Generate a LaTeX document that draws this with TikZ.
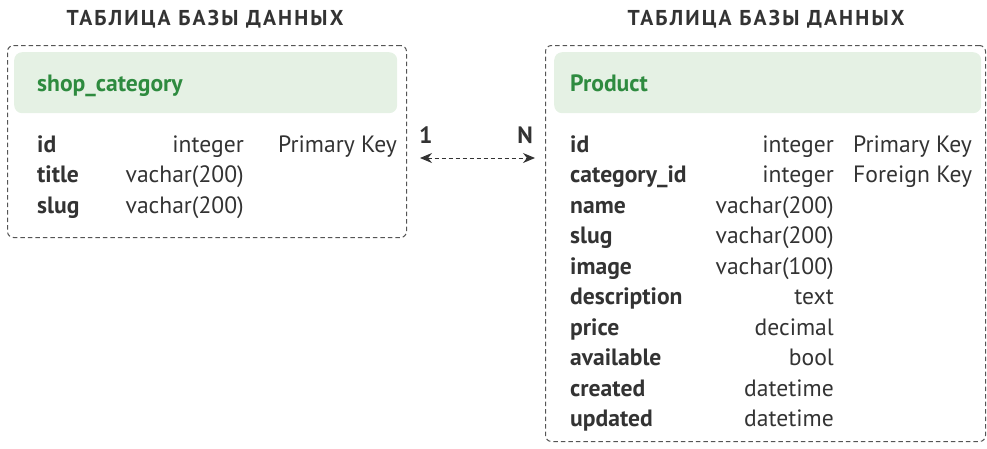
\documentclass[tikz,border=0pt]{standalone}
\usepackage{fontspec}
\setmainfont{PT Sans}
\usepackage{tikz}
\usetikzlibrary{arrows.meta,positioning}

\definecolor{inkgray}{HTML}{333333}
\definecolor{boxgray}{HTML}{555555}
\definecolor{headgreen}{HTML}{E5F1E4}
\definecolor{titlegreen}{HTML}{2E8B3F}

\begin{document}
\begin{tikzpicture}[
  x=1pt, y=-1pt,
  every node/.style={font=\fontsize{23.6}{28}\selectfont, text=inkgray, inner sep=0pt},
  caption/.style={anchor=base, font=\fontsize{21.5}{26}\selectfont\bfseries\addfontfeature{LetterSpace=10}},
  tablebox/.style={draw=boxgray, dash pattern=on 4.5pt off 3pt, line width=1pt, rounded corners=6pt, anchor=north west},
  header/.style={fill=headgreen, rounded corners=8pt, anchor=north west},
  tname/.style={anchor=base west, font=\fontsize{23.6}{28}\selectfont\bfseries, text=titlegreen},
  field/.style={anchor=base west, font=\fontsize{23.6}{28}\selectfont\bfseries},
  ftype/.style={anchor=base east},
  fkey/.style={anchor=base west},
  rel/.style={draw=inkgray, line width=1pt, dash pattern=on 4pt off 3pt, {Stealth[length=12pt,width=10pt]}-{Stealth[length=12pt,width=10pt]}}
]
\useasboundingbox (0,0) rectangle (987,448);

% captions
\node[caption] (capleft) at (205,25) {ТАБЛИЦА БАЗЫ ДАННЫХ};
\node[caption] (capright) at (766,25) {ТАБЛИЦА БАЗЫ ДАННЫХ};

% shop_category table
\node[tablebox, minimum width=399, minimum height=192] (catbox) at (7,45) {};
\node[header, minimum width=383, minimum height=61] (cathead) at (14,52) {};
\node[tname] (catname) at (37,91) {shop\_category};
\node[field] (cat-id) at (37,152) {id};
\node[ftype] (cat-id-t) at (244,152) {integer};
\node[fkey] (cat-id-k) at (278,152) {Primary Key};
\node[field] (cat-title) at (37,182.5) {title};
\node[ftype] (cat-title-t) at (244,182.5) {vachar(200)};
\node[field] (cat-slug) at (37,213) {slug};
\node[ftype] (cat-slug-t) at (244,213) {vachar(200)};

% Product table
\node[tablebox, minimum width=440, minimum height=396] (prodbox) at (545,45) {};
\node[header, minimum width=427, minimum height=61] (prodhead) at (554,52) {};
\node[tname] (prodname) at (570,91) {Product};
\foreach \i/\f/\t in {0/id/integer, 1/category\_id/integer, 2/name/vachar(200),
  3/slug/vachar(200), 4/image/vachar(100), 5/description/text, 6/price/decimal,
  7/available/bool, 8/created/datetime, 9/updated/datetime} {
  \node[field] (prod-\i) at (570,152+30.5*\i) {\f};
  \node[ftype] (prod-\i-t) at (834,152+30.5*\i) {\t};
}
\node[fkey] (prod-0-k) at (853,152) {Primary Key};
\node[fkey] (prod-1-k) at (853,182.5) {Foreign Key};

% relation
\coordinate (relone) at (420,158);
\coordinate (relmany) at (535,158);
\draw[rel] (relone) -- (relmany);
\node[anchor=base west, font=\fontsize{23.6}{28}\selectfont\bfseries] (one) at (419,143) {1};
\node[anchor=base east, font=\fontsize{23.6}{28}\selectfont\bfseries] (many) at (533,143) {N};
\end{tikzpicture}
\end{document}
